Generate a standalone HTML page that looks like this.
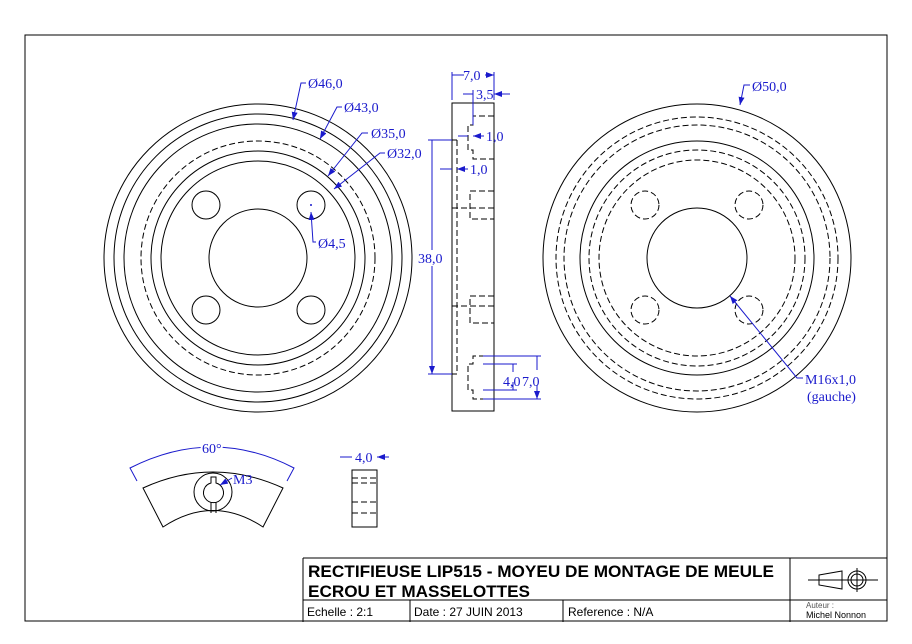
<!DOCTYPE html>
<html><head><meta charset="utf-8"><style>
html,body{margin:0;padding:0;background:#fff}
svg{display:block}
.k{fill:none;stroke:#000;stroke-width:1}
.d{fill:none;stroke:#000;stroke-width:1;stroke-dasharray:6,3}
.b{fill:none;stroke:#1a1acc;stroke-width:1}
.t{font-family:"Liberation Serif",serif;font-size:14px;fill:#1a1acc}
.s{font-family:"Liberation Sans",sans-serif}
</style></head><body>
<svg width="912" height="644" viewBox="0 0 912 644" xmlns="http://www.w3.org/2000/svg">
<defs><marker id="a" markerWidth="8" markerHeight="6" refX="8" refY="3" orient="auto-start-reverse" markerUnits="userSpaceOnUse"><path d="M0,0 L8,3 L0,6 z" fill="#1a1acc"/></marker></defs>
<rect x="25" y="35" width="862" height="586" class="k"/>
<!-- left view -->
<g>
<circle cx="258" cy="258" r="154" class="k"/><circle cx="258" cy="258" r="144" class="k"/><circle cx="258" cy="258" r="134" class="k"/>
<circle cx="258" cy="258" r="117" class="d"/><circle cx="258" cy="258" r="107" class="k"/><circle cx="258" cy="258" r="97" class="k"/>
<circle cx="258" cy="258" r="49" class="k"/>
<circle cx="206" cy="205" r="14" class="k"/><circle cx="311" cy="205" r="14" class="k"/>
<circle cx="206" cy="310" r="14" class="k"/><circle cx="311" cy="310" r="14" class="k"/>
<circle cx="311" cy="205" r="1" fill="#1a1acc"/>
</g>
<path d="M306,83 H301 L293,120" class="b" marker-end="url(#a)"/><text x="308" y="88" class="t">Ø46,0</text>
<path d="M342,107 H337 L320,139" class="b" marker-end="url(#a)"/><text x="344" y="112" class="t">Ø43,0</text>
<path d="M368,133 H362 L328,176" class="b" marker-end="url(#a)"/><text x="371" y="138" class="t">Ø35,0</text>
<path d="M385,153 H380 L334,189" class="b" marker-end="url(#a)"/><text x="387" y="158" class="t">Ø32,0</text>
<path d="M316,242 H313 L311,212" class="b" marker-end="url(#a)"/><text x="318" y="248" class="t">Ø4,5</text>
<!-- side view -->
<rect x="452" y="103" width="42" height="308" class="k"/>
<path d="M452,140 H457 M452,374 H457" class="k"/>
<path d="M457,140 V374" class="d"/>
<path d="M494,116 H473 V125 H468 V150 H473 V159 H494" class="d"/>
<path d="M494,191 H470 V219 H494 M494,296 H470 V323 H494" class="d"/>
<path d="M452,208 H494 M452,306 H494" class="d"/>
<path d="M494,356 H473 V364 H468 V390 H473 V399 H494" class="d"/>
<path d="M452,72 V100 M494,72 V100 M473,90 V125" class="b"/>
<path d="M464,75 H452 M485,75 H494" class="b" marker-end="url(#a)"/>
<text x="463" y="80" class="t">7,0</text>
<path d="M463,94 H473 M510,94 H494" class="b" marker-end="url(#a)"/>
<text x="476" y="99" class="t">3,5</text>
<path d="M458,136 H468 M484,136 H473" class="b" marker-end="url(#a)"/>
<text x="486" y="141" class="t">1,0</text>
<path d="M440,169 H452 M468,169 H457" class="b" marker-end="url(#a)"/>
<text x="470" y="174" class="t">1,0</text>
<path d="M428,140 H452 M428,374 H452" class="b"/>
<path d="M432,250 V140 M432,266 V374" class="b" marker-end="url(#a)"/>
<text x="418" y="263" class="t">38,0</text>
<path d="M483,364 H517 M483,390 H517 M483,356 H541 M483,399 H541" class="b"/>
<path d="M513,372 V364 M513,382 V390" class="b"/>
<path d="M537,370 V356 M537,385 V399" class="b" marker-end="url(#a)"/>
<text x="503" y="386" class="t">4,0</text><text x="522" y="386" class="t">7,0</text>
<!-- right view -->
<g>
<circle cx="697" cy="258" r="154" class="k"/><circle cx="697" cy="258" r="141" class="d"/><circle cx="697" cy="258" r="133" class="d"/>
<circle cx="697" cy="258" r="117" class="k"/><circle cx="697" cy="258" r="108" class="d"/><circle cx="697" cy="258" r="98" class="d"/>
<circle cx="697" cy="258" r="50" class="k"/>
<circle cx="645" cy="205" r="14" class="d"/><circle cx="749" cy="205" r="14" class="d"/>
<circle cx="645" cy="310" r="14" class="d"/><circle cx="749" cy="310" r="14" class="d"/>
</g>
<path d="M750,85 H744 L740,105" class="b" marker-end="url(#a)"/><text x="752" y="91" class="t">Ø50,0</text>
<path d="M803,378 H797 L730,296" class="b" marker-end="url(#a)"/>
<text x="805" y="384" class="t">M16x1,0</text><text x="807" y="401" class="t">(gauche)</text>
<!-- segment -->
<path d="M143,488 Q213,456 283,488 L263,527 Q213,494 163,527 Z" class="k"/>
<circle cx="213" cy="492" r="19" class="k"/>
<path d="M211,477 V483 A10,10 0 1 0 216,483 V477 Z" class="k"/>
<path d="M211,502 V513 M216,502 V513" class="k"/>
<path d="M137,481 L130,468 Q213,426 294,468 L287,481" class="b"/>
<text x="202" y="453" class="t" style="paint-order:stroke;stroke:#fff;stroke-width:4">60°</text>
<path d="M232,478 L220,485" class="b" marker-end="url(#a)"/>
<text x="233" y="484" class="t">M3</text>
<rect x="352" y="470" width="25" height="57" class="k"/>
<path d="M352,478 H377 M352,483 H377 M352,502 H377 M352,513 H377" class="d"/>
<path d="M340,457 H352 M389,457 H377" class="b" marker-end="url(#a)"/>
<text x="355" y="462" class="t">4,0</text>
<!-- title block -->
<path d="M303,558 V622 M303,558 H887 M303,600 H887 M790,558 V622 M410,600 V622 M563,600 V622" class="k"/>
<text x="308" y="577" class="s" style="font-size:17px;font-weight:bold" textLength="466" lengthAdjust="spacingAndGlyphs">RECTIFIEUSE LIP515 - MOYEU DE MONTAGE DE MEULE</text>
<text x="308" y="597" class="s" style="font-size:17px;font-weight:bold" textLength="222" lengthAdjust="spacingAndGlyphs">ECROU ET MASSELOTTES</text>
<text x="307" y="616" class="s" style="font-size:12px">Echelle : 2:1</text>
<text x="414" y="616" class="s" style="font-size:12px">Date : 27 JUIN 2013</text>
<text x="568" y="616" class="s" style="font-size:12px">Reference : N/A</text>
<text x="806" y="608" class="s" style="font-size:8px;fill:#555">Auteur :</text>
<text x="806" y="618" class="s" style="font-size:9px">Michel Nonnon</text>
<path d="M808,580 H878 M857,568 V592" class="k"/>
<path d="M819,575 L842,571 V589 L819,585 Z" class="k"/>
<circle cx="857" cy="580" r="9" class="k"/><circle cx="857" cy="580" r="6" class="k"/>
</svg>
</body></html>
